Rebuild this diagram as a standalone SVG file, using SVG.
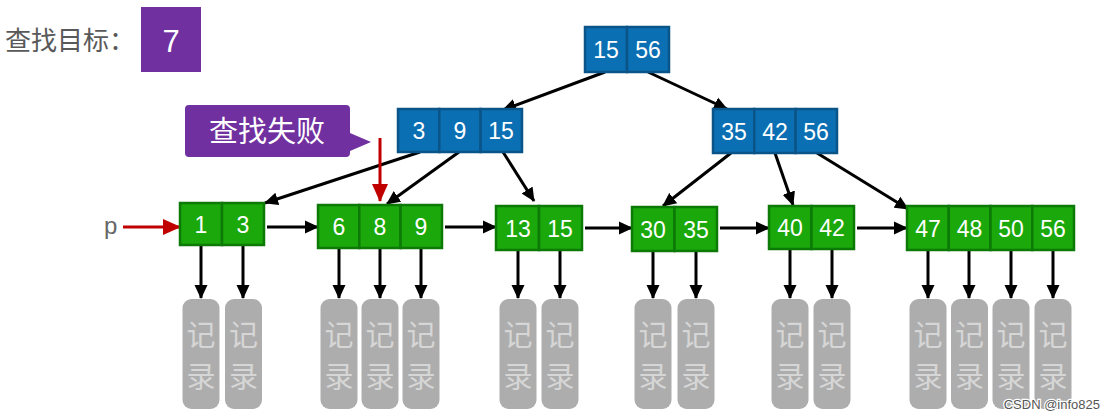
<svg xmlns="http://www.w3.org/2000/svg" width="1117" height="420" viewBox="0 0 1117 420">
<defs>
<style>
.blue{fill:#0b6fb3;stroke:#0a5488;stroke-width:2.5}
.green{fill:#1aa80a;stroke:#0d7a07;stroke-width:2.5}
.num{font-family:"Liberation Sans",Arial,sans-serif;font-size:23px;fill:#ffffff;text-anchor:middle}
.rec{fill:#adadad}
.rect{font-family:"Noto Sans CJK SC",sans-serif;font-size:29px;fill:#d6d6d6;text-anchor:middle}
.edge{stroke:#000;stroke-width:3;fill:none;marker-end:url(#ah)}
.red{stroke:#c00000;stroke-width:3;fill:none}
</style>
<marker id="ah" markerWidth="14" markerHeight="14" viewBox="0 0 14 14" refX="13" refY="7" orient="auto" markerUnits="userSpaceOnUse">
<path d="M0,0.5 L14,7 L0,13.5 Z" fill="#000"/>
</marker>
<marker id="ahr" markerWidth="18" markerHeight="18" viewBox="0 0 18 18" refX="17" refY="9" orient="auto" markerUnits="userSpaceOnUse">
<path d="M0,1 L18,9 L0,17 Z" fill="#c00000"/>
</marker>
</defs>
<rect width="1117" height="420" fill="#fff"/>

<g id="title">
<text x="5" y="50" font-family="'Noto Sans CJK SC',sans-serif" font-size="26" fill="#595959">查找目标：</text>
<rect x="141" y="7" width="60" height="65" fill="#7030a0"/>
<text x="171" y="52" font-family="'Liberation Sans',Arial,sans-serif" font-size="31" fill="#fff" text-anchor="middle">7</text>
</g>

<g id="callout">
<path d="M189,105 H346 Q350,105 350,109 V133 L371,142 L350,151 V153 Q350,157 346,157 H189 Q185,157 185,153 V109 Q185,105 189,105 Z" fill="#7030a0"/>
<text x="267" y="142" font-family="'Noto Sans CJK SC',sans-serif" font-size="29" fill="#fff" text-anchor="middle">查找失败</text>
</g>

<g id="connectors">
<line class="edge" x1="605" y1="72" x2="503" y2="110"/>
<line class="edge" x1="648" y1="72" x2="727" y2="109"/>
<line class="edge" x1="420" y1="152" x2="265" y2="203"/>
<line class="edge" x1="459" y1="152" x2="387" y2="204"/>
<line class="edge" x1="503" y1="152" x2="534" y2="201"/>
<line class="edge" x1="731" y1="153" x2="663" y2="206"/>
<line class="edge" x1="775" y1="153" x2="793" y2="205"/>
<line class="edge" x1="817" y1="153" x2="908" y2="209"/>
<line class="edge" x1="267" y1="227" x2="318" y2="227"/>
<line class="edge" x1="445" y1="227" x2="496" y2="227"/>
<line class="edge" x1="585" y1="228" x2="632" y2="228"/>
<line class="edge" x1="720" y1="228" x2="769" y2="228"/>
<line class="edge" x1="857" y1="228" x2="907" y2="228"/>
<line class="edge" x1="201" y1="245" x2="201" y2="298"/>
<line class="edge" x1="243" y1="245" x2="243" y2="298"/>
<line class="edge" x1="339" y1="248" x2="339" y2="298"/>
<line class="edge" x1="380" y1="248" x2="380" y2="298"/>
<line class="edge" x1="421" y1="248" x2="421" y2="298"/>
<line class="edge" x1="518" y1="250" x2="518" y2="298"/>
<line class="edge" x1="560" y1="250" x2="560" y2="298"/>
<line class="edge" x1="653" y1="251" x2="653" y2="298"/>
<line class="edge" x1="696" y1="251" x2="696" y2="298"/>
<line class="edge" x1="790" y1="249" x2="790" y2="298"/>
<line class="edge" x1="832" y1="249" x2="832" y2="298"/>
<line class="edge" x1="928" y1="250" x2="928" y2="298"/>
<line class="edge" x1="969" y1="250" x2="969" y2="298"/>
<line class="edge" x1="1011" y1="250" x2="1011" y2="298"/>
<line class="edge" x1="1053" y1="250" x2="1053" y2="298"/>
<line class="red" x1="380" y1="138" x2="380" y2="201" marker-end="url(#ahr)"/>
<line class="red" x1="123" y1="227" x2="180" y2="227" marker-end="url(#ahr)"/>
</g>

<text x="104" y="234" font-family="'Liberation Sans',Arial,sans-serif" font-size="24" fill="#666">p</text>

<g id="root">
<rect class="blue" x="585" y="27" width="42" height="45"/>
<rect class="blue" x="627" y="27" width="42" height="45"/>
<text class="num" x="606" y="58">15</text>
<text class="num" x="648" y="58">56</text>
</g>

<g id="inner-left">
<rect class="blue" x="398" y="109" width="41.3" height="43"/>
<rect class="blue" x="439.3" y="109" width="41.3" height="43"/>
<rect class="blue" x="480.6" y="109" width="41.4" height="43"/>
<text class="num" x="419" y="139">3</text>
<text class="num" x="460" y="139">9</text>
<text class="num" x="501" y="139">15</text>
</g>

<g id="inner-right">
<rect class="blue" x="713" y="109" width="41.3" height="44"/>
<rect class="blue" x="754.3" y="109" width="41.3" height="44"/>
<rect class="blue" x="795.6" y="109" width="41.4" height="44"/>
<text class="num" x="734" y="139.5">35</text>
<text class="num" x="775" y="139.5">42</text>
<text class="num" x="816" y="139.5">56</text>
</g>

<g id="leaf1">
<rect class="green" x="180" y="203" width="42" height="42"/>
<rect class="green" x="222" y="203" width="42" height="42"/>
<text class="num" x="201" y="232.5">1</text>
<text class="num" x="243" y="232.5">3</text>
</g>

<g id="leaf2">
<rect class="green" x="318" y="205" width="41.3" height="43"/>
<rect class="green" x="359.3" y="205" width="41.3" height="43"/>
<rect class="green" x="400.6" y="205" width="41.4" height="43"/>
<text class="num" x="339" y="235">6</text>
<text class="num" x="380" y="235">8</text>
<text class="num" x="421" y="235">9</text>
</g>

<g id="leaf3">
<rect class="green" x="496" y="206" width="43" height="44"/>
<rect class="green" x="539" y="206" width="43" height="44"/>
<text class="num" x="518" y="236.5">13</text>
<text class="num" x="560" y="236.5">15</text>
</g>

<g id="leaf4">
<rect class="green" x="632" y="207" width="42.5" height="44"/>
<rect class="green" x="674.5" y="207" width="42.5" height="44"/>
<text class="num" x="653" y="237.5">30</text>
<text class="num" x="696" y="237.5">35</text>
</g>

<g id="leaf5">
<rect class="green" x="769" y="206" width="42.5" height="43"/>
<rect class="green" x="811.5" y="206" width="42.5" height="43"/>
<text class="num" x="790" y="236">40</text>
<text class="num" x="832" y="236">42</text>
</g>

<g id="leaf6">
<rect class="green" x="907" y="206" width="41.75" height="44"/>
<rect class="green" x="948.75" y="206" width="41.75" height="44"/>
<rect class="green" x="990.5" y="206" width="41.75" height="44"/>
<rect class="green" x="1032.25" y="206" width="41.75" height="44"/>
<text class="num" x="928" y="236.5">47</text>
<text class="num" x="969.5" y="236.5">48</text>
<text class="num" x="1011" y="236.5">50</text>
<text class="num" x="1053" y="236.5">56</text>
</g>

<g id="records">
<g id="rec1"><rect class="rec" x="182.5" y="299" width="37" height="110" rx="9"/><text class="rect" x="201" y="346">记</text><text class="rect" x="201" y="388">录</text></g>
<g id="rec2"><rect class="rec" x="225" y="299" width="37" height="110" rx="9"/><text class="rect" x="243.5" y="346">记</text><text class="rect" x="243.5" y="388">录</text></g>
<g id="rec3"><rect class="rec" x="320.5" y="299" width="37" height="110" rx="9"/><text class="rect" x="339" y="346">记</text><text class="rect" x="339" y="388">录</text></g>
<g id="rec4"><rect class="rec" x="361.5" y="299" width="37" height="110" rx="9"/><text class="rect" x="380" y="346">记</text><text class="rect" x="380" y="388">录</text></g>
<g id="rec5"><rect class="rec" x="402.5" y="299" width="37" height="110" rx="9"/><text class="rect" x="421" y="346">记</text><text class="rect" x="421" y="388">录</text></g>
<g id="rec6"><rect class="rec" x="499.5" y="299" width="37" height="110" rx="9"/><text class="rect" x="518" y="346">记</text><text class="rect" x="518" y="388">录</text></g>
<g id="rec7"><rect class="rec" x="541.5" y="299" width="37" height="110" rx="9"/><text class="rect" x="560" y="346">记</text><text class="rect" x="560" y="388">录</text></g>
<g id="rec8"><rect class="rec" x="634.5" y="299" width="37" height="110" rx="9"/><text class="rect" x="653" y="346">记</text><text class="rect" x="653" y="388">录</text></g>
<g id="rec9"><rect class="rec" x="677.5" y="299" width="37" height="110" rx="9"/><text class="rect" x="696" y="346">记</text><text class="rect" x="696" y="388">录</text></g>
<g id="rec10"><rect class="rec" x="771.5" y="299" width="37" height="110" rx="9"/><text class="rect" x="790" y="346">记</text><text class="rect" x="790" y="388">录</text></g>
<g id="rec11"><rect class="rec" x="813.5" y="299" width="37" height="110" rx="9"/><text class="rect" x="832" y="346">记</text><text class="rect" x="832" y="388">录</text></g>
<g id="rec12"><rect class="rec" x="909.5" y="299" width="37" height="110" rx="9"/><text class="rect" x="928" y="346">记</text><text class="rect" x="928" y="388">录</text></g>
<g id="rec13"><rect class="rec" x="951" y="299" width="37" height="110" rx="9"/><text class="rect" x="969.5" y="346">记</text><text class="rect" x="969.5" y="388">录</text></g>
<g id="rec14"><rect class="rec" x="992.5" y="299" width="37" height="110" rx="9"/><text class="rect" x="1011" y="346">记</text><text class="rect" x="1011" y="388">录</text></g>
<g id="rec15"><rect class="rec" x="1034.5" y="299" width="37" height="110" rx="9"/><text class="rect" x="1053" y="346">记</text><text class="rect" x="1053" y="388">录</text></g>
</g>

<text x="1100" y="409" font-family="'Liberation Sans',Arial,sans-serif" font-size="13" fill="#555" stroke="#fff" stroke-width="2.5" paint-order="stroke" text-anchor="end">CSDN @info825</text>
</svg>
